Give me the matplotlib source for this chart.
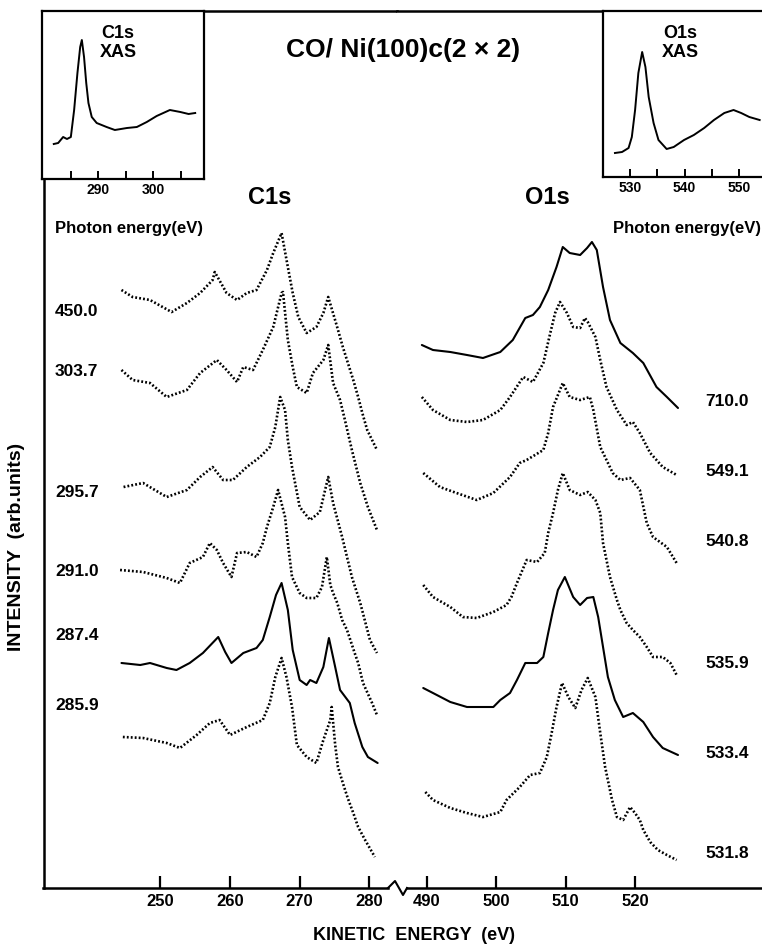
import matplotlib
matplotlib.use("Agg")
import matplotlib.pyplot as plt
from matplotlib.lines import Line2D

plt.rcParams['font.family'] = ['Liberation Sans', 'DejaVu Sans']
plt.rcParams['font.weight'] = 'bold'

# ---- XAS insets (photon energy, intensity) ----
xas_c_e = [281.9, 282.7, 283.6, 284.3, 285.0, 285.6, 286.2, 286.7, 287.0, 287.4, 287.8, 288.2,
           288.8, 289.7, 291.5, 293.0, 295.2, 297.0, 298.8, 300.6, 303.0, 304.9, 306.4, 307.6]
xas_c_i = [35, 36, 42, 40, 42, 69, 106, 132, 139, 122, 96, 76,
           62, 56, 52, 49, 51, 52, 57, 63, 69, 67, 65, 66]

xas_o_e = [527.2, 528.5, 529.7, 530.3, 530.9, 531.5, 532.2, 532.8, 533.4, 534.3, 535.2, 536.7,
           538.0, 539.9, 541.7, 543.6, 545.4, 547.3, 549.0, 550.4, 551.9, 553.8]
xas_o_i = [24, 25, 29, 40, 67, 104, 125, 110, 80, 54, 37, 28,
           30, 37, 42, 49, 57, 64, 67, 64, 60, 57]

# ---- C1s photoemission spectra, kinetic energy (eV) vs stacked intensity ----
c1s_4500_e = [244.4, 246.0, 248.5, 251.6, 253.8, 255.7, 257.5, 257.8, 259.5, 261.0, 262.4, 263.8,
              265.3, 266.2, 267.4, 268.3, 269.0, 269.8, 271.0, 272.4, 273.4, 274.1, 275.3, 276.2,
              277.7, 278.4, 279.0, 279.7, 280.4, 281.1]
c1s_4500_i = [598, 591, 588, 576, 585, 595, 608, 616, 595, 588, 595, 598,
              618, 635, 655, 621, 595, 571, 555, 561, 575, 591, 563, 541,
              508, 491, 475, 458, 448, 438]

c1s_3037_e = [244.4, 246.0, 248.5, 250.9, 253.8, 255.7, 258.1, 259.5, 261.0, 261.9, 263.3, 264.7,
              266.2, 267.4, 267.6, 268.3, 269.0, 269.6, 271.0, 271.9, 273.4, 274.1, 274.8, 275.8,
              276.5, 277.5, 278.7, 279.8, 281.1]
c1s_3037_i = [518, 508, 505, 491, 498, 515, 528, 518, 506, 521, 518, 538,
              561, 595, 596, 548, 521, 501, 495, 515, 528, 543, 505, 488,
              468, 438, 405, 381, 358]

c1s_2957_e = [244.7, 247.5, 250.9, 253.8, 255.7, 257.5, 259.0, 260.4, 262.4, 264.3, 265.7, 266.5,
              267.2, 267.9, 268.3, 268.9, 270.0, 271.5, 272.9, 274.1, 274.8, 276.1, 277.5, 278.7,
              280.1, 281.1]
c1s_2957_i = [401, 405, 391, 398, 411, 421, 408, 408, 421, 431, 441, 461,
              491, 478, 448, 421, 381, 368, 376, 411, 385, 351, 311, 285,
              248, 235]

c1s_2910_e = [244.2, 247.5, 250.9, 252.8, 254.2, 256.1, 257.1, 258.1, 259.0, 260.2, 261.0, 262.4,
              263.8, 264.7, 265.3, 266.2, 266.9, 267.9, 268.3, 268.9, 270.0, 271.0, 272.4, 273.2,
              273.9, 274.4, 274.8, 275.4, 276.1, 276.8, 277.9, 278.4, 279.1, 280.4, 281.1]
c1s_2910_i = [318, 316, 310, 305, 325, 331, 345, 338, 325, 311, 335, 336,
              331, 345, 361, 381, 398, 371, 345, 311, 295, 290, 290, 301,
              331, 303, 295, 285, 268, 258, 235, 225, 205, 185, 173]

c1s_2874_e = [244.4, 247.1, 248.5, 250.9, 252.3, 254.2, 256.1, 258.3, 259.3, 260.2, 261.9, 263.8,
              264.7, 265.7, 266.6, 267.4, 268.3, 269.0, 270.0, 271.0, 271.5, 272.4, 273.4, 274.2,
              275.1, 275.8, 277.2, 277.9, 279.0, 279.8, 281.2]
c1s_2874_i = [225, 223, 225, 220, 218, 225, 235, 251, 236, 225, 235, 240,
              248, 271, 293, 305, 278, 238, 208, 203, 208, 205, 221, 250,
              221, 198, 185, 165, 141, 131, 125]

c1s_2859_e = [244.6, 247.5, 250.9, 252.8, 255.2, 257.1, 258.5, 260.0, 262.4, 264.7, 265.7, 266.5,
              267.4, 268.1, 268.9, 269.6, 271.0, 272.4, 273.4, 274.4, 274.6, 275.1, 275.5, 276.2,
              276.9, 277.7, 278.4, 279.4, 280.8]
c1s_2859_i = [151, 150, 145, 140, 153, 165, 168, 153, 161, 168, 185, 211,
              230, 211, 181, 143, 131, 125, 148, 168, 181, 143, 121, 105,
              90, 75, 61, 48, 31]

# ---- O1s photoemission spectra ----
o1s_7100_e = [489.3, 490.9, 493.4, 495.8, 498.1, 500.6, 502.4, 504.2, 505.3, 506.3, 507.5, 508.7,
              509.6, 510.6, 512.1, 513.1, 513.8, 514.5, 515.4, 516.4, 517.9, 519.7, 521.2, 523.1,
              524.6, 526.2]
o1s_7100_i = [543, 538, 536, 533, 530, 536, 548, 570, 573, 581, 598, 621,
              641, 635, 633, 640, 646, 638, 601, 568, 545, 535, 525, 501,
              491, 480]

o1s_5491_e = [489.3, 490.9, 493.4, 495.8, 498.1, 500.6, 502.0, 503.9, 505.3, 506.8, 507.8, 508.5,
              509.2, 510.2, 511.1, 512.1, 512.8, 513.2, 514.3, 515.0, 515.9, 517.4, 518.8, 519.7,
              520.7, 522.2, 524.0, 526.0]
o1s_5491_i = [491, 478, 468, 466, 468, 478, 491, 511, 506, 525, 555, 575,
              586, 575, 561, 560, 570, 566, 551, 528, 501, 478, 463, 466,
              455, 435, 421, 413]

o1s_5408_e = [489.5, 491.9, 494.3, 497.2, 499.6, 502.0, 503.4, 504.4, 506.8, 507.5, 508.2, 509.6,
              510.6, 512.1, 513.5, 514.0, 515.0, 515.9, 516.8, 517.9, 519.3, 520.7, 521.7, 522.6,
              524.6, 526.0]
o1s_5408_i = [415, 401, 395, 388, 395, 411, 425, 428, 438, 455, 481, 505,
              491, 488, 491, 478, 441, 428, 415, 408, 410, 398, 365, 351,
              341, 325]

o1s_5359_e = [489.5, 490.9, 493.4, 495.2, 497.2, 499.6, 501.5, 502.2, 503.0, 504.4, 505.9, 507.0,
              507.5, 508.2, 508.9, 509.6, 510.6, 512.1, 513.2, 514.3, 515.0, 515.4, 516.4, 517.4,
              517.9, 518.8, 519.7, 520.7, 521.7, 522.6, 524.0, 525.1, 526.0]
o1s_5359_i = [303, 291, 281, 271, 270, 276, 283, 291, 305, 328, 326, 335,
              355, 375, 398, 415, 398, 393, 396, 388, 375, 345, 311, 288,
              278, 265, 258, 251, 241, 231, 231, 225, 213]

o1s_5334_e = [489.5, 490.9, 493.4, 495.8, 498.1, 499.6, 500.6, 502.0, 503.0, 504.2, 505.9, 506.8,
              507.5, 508.2, 508.9, 509.9, 511.1, 512.1, 513.1, 514.0, 514.7, 515.4, 516.1, 517.1,
              518.3, 519.7, 521.2, 522.6, 524.0, 526.2]
o1s_5334_i = [200, 195, 186, 181, 181, 181, 188, 195, 208, 225, 225, 231,
              255, 278, 298, 311, 291, 283, 290, 291, 271, 241, 211, 188,
              171, 175, 166, 151, 140, 133]

o1s_5318_e = [489.8, 490.9, 493.4, 495.8, 498.1, 500.6, 501.5, 503.4, 504.9, 506.3, 507.3, 508.0,
              508.7, 509.5, 510.4, 511.4, 512.3, 513.2, 514.3, 515.0, 515.7, 516.7, 517.4, 518.3,
              519.3, 520.0, 520.7, 521.2, 522.2, 523.3, 524.6, 526.0]
o1s_5318_i = [96, 88, 80, 75, 71, 76, 88, 101, 113, 115, 131, 155,
              181, 205, 191, 180, 198, 210, 191, 155, 121, 88, 71, 68,
              81, 75, 68, 58, 46, 38, 33, 28]

c1s_spectra = [(c1s_4500_e, c1s_4500_i), (c1s_3037_e, c1s_3037_i), (c1s_2957_e, c1s_2957_i),
               (c1s_2910_e, c1s_2910_i), (c1s_2874_e, c1s_2874_i), (c1s_2859_e, c1s_2859_i)]
o1s_spectra = [(o1s_7100_e, o1s_7100_i), (o1s_5491_e, o1s_5491_i), (o1s_5408_e, o1s_5408_i),
               (o1s_5359_e, o1s_5359_i), (o1s_5334_e, o1s_5334_i), (o1s_5318_e, o1s_5318_i)]
c1s_photon = ['450.0', '303.7', '295.7', '291.0', '287.4', '285.9']
o1s_photon = ['710.0', '549.1', '540.8', '535.9', '533.4', '531.8']
c1s_smooth = [False, False, False, False, True, False]
o1s_smooth = [True, False, False, False, True, False]

c1s_ticks = [250, 260, 270, 280]
o1s_ticks = [490, 500, 510, 520]

W, H = 762, 944


def box(x0, y0, x1, y1):
    # pixel rectangle (top-left origin) -> figure fraction [l, b, w, h]
    return [x0 / W, 1 - y1 / H, (x1 - x0) / W, (y1 - y0) / H]


def fpt(x, y):
    return x / W, 1 - y / H


fig = plt.figure(figsize=(W / 100, H / 100), dpi=100)

ax_c = fig.add_axes(box(43.5, 11, 397, 888))
ax_o = fig.add_axes(box(397, 11, 762, 888))

for ax, spectra, smooth in [(ax_c, c1s_spectra, c1s_smooth), (ax_o, o1s_spectra, o1s_smooth)]:
    for (e, i), sm in zip(spectra, smooth):
        if sm:
            ax.plot(e, i, color='black', lw=1.5, solid_capstyle='round')
        else:
            ax.plot(e, i, color='black', lw=1.9, linestyle=(0, (0.7, 0.8)))
    ax.set_ylim(0, 877)
    ax.tick_params(axis='x', direction='in', length=9, width=1.6, pad=4,
                   labelsize=12, top=False)
    ax.tick_params(axis='y', left=False, labelleft=False, right=False)
    for s in ax.spines.values():
        s.set_linewidth(1.8)
    ax.spines['right'].set_visible(False)

ax_c.set_xlim(233.2, 283.98)
ax_o.set_xlim(485.72, 538.3)
ax_c.set_xticks(c1s_ticks)
ax_o.set_xticks(o1s_ticks)
ax_c.spines['bottom'].set_bounds(233.2, 282.69)
ax_o.spines['bottom'].set_bounds(487.16, 538.3)
ax_o.spines['left'].set_visible(False)

# axis break zigzag
zz = [fpt(388, 888), fpt(395, 881), fpt(403, 895), fpt(407, 888)]
fig.add_artist(Line2D([p[0] for p in zz], [p[1] for p in zz], color='black', lw=1.5))

# ---- insets ----
ax_i1 = fig.add_axes(box(42, 11, 204, 179))
ax_i1.plot(xas_c_e, xas_c_i, color='black', lw=1.4)
ax_i1.set_xlim(279.76, 309.2)
ax_i1.set_ylim(0, 168)
ax_i1.set_xticks([290, 300])
ax_i1.set_xticks([285, 295, 305], minor=True)

ax_i2 = fig.add_axes(box(603, 11, 764, 177))
ax_i2.plot(xas_o_e, xas_o_i, color='black', lw=1.4)
ax_i2.set_xlim(525.0, 554.6)
ax_i2.set_ylim(0, 166)
ax_i2.set_xticks([530, 540, 550])
ax_i2.set_xticks([535, 545], minor=True)

for ax in (ax_i1, ax_i2):
    ax.tick_params(axis='x', which='both', direction='in', length=6, width=1.4,
                   pad=3, labelsize=10)
    ax.tick_params(axis='y', left=False, labelleft=False)
    for s in ax.spines.values():
        s.set_linewidth(1.6)

fig.text(*fpt(118, 43), 'C1s\nXAS', ha='center', va='center', fontsize=13, linespacing=1.2)
fig.text(*fpt(680, 43), 'O1s\nXAS', ha='center', va='center', fontsize=13, linespacing=1.2)

# ---- labels ----
fig.text(*fpt(403, 50), 'CO/ Ni(100)c(2 × 2)', ha='center', va='center', fontsize=19)
fig.text(*fpt(270, 197), 'C1s', ha='center', va='center', fontsize=17)
fig.text(*fpt(547, 197), 'O1s', ha='center', va='center', fontsize=17)
fig.text(*fpt(55, 229), 'Photon energy(eV)', ha='left', va='center', fontsize=12)
fig.text(*fpt(761, 229), 'Photon energy(eV)', ha='right', va='center', fontsize=12)

c1s_label_y = [311, 372, 492, 571, 636, 705]
o1s_label_y = [402, 472, 542, 663, 753, 853]
for lab, y in zip(c1s_photon, c1s_label_y):
    fig.text(*fpt(55, y), lab, ha='left', va='center', fontsize=12.5)
for lab, y in zip(o1s_photon, o1s_label_y):
    fig.text(*fpt(727, y), lab, ha='center', va='center', fontsize=12.5)

fig.text(*fpt(414, 935), 'KINETIC  ENERGY  (eV)', ha='center', va='center', fontsize=13)
fig.text(*fpt(17, 547), 'INTENSITY  (arb.units)', ha='center', va='center',
         rotation=90, fontsize=14)

fig.savefig('out.png', dpi=100, facecolor='white')
